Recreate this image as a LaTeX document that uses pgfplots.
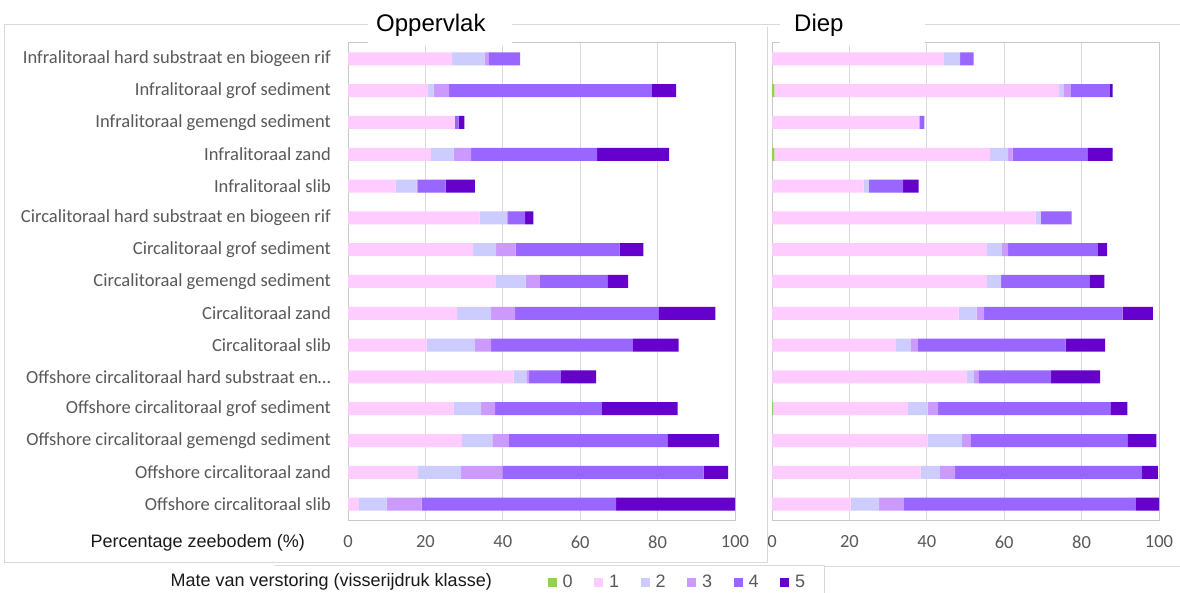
\documentclass[border=0pt]{standalone}
\usepackage{pgfplots}
\pgfplotsset{compat=1.18}
\usepackage{pgfplotstable}
\usepackage{fontspec}
\setmainfont{Carlito}
\newfontfamily\arial{Liberation Sans}
\definecolor{c0}{HTML}{92D050}
\definecolor{c1}{HTML}{FFCCFF}
\definecolor{c2}{HTML}{CCCCFF}
\definecolor{c3}{HTML}{CC99FF}
\definecolor{c4}{HTML}{9966FF}
\definecolor{c5}{HTML}{6600CC}
\definecolor{gridgrey}{HTML}{D9D9D9}
\definecolor{framegrey}{HTML}{C8C8C8}
\definecolor{txtgrey}{HTML}{595959}

\pgfplotstableread{
y c0 c1 c2 c3 c4 c5
0 0 26.9 8.4 1.0 8.2 0
1 0 20.7 1.4 4.0 52.4 6.3
2 0 27.6 0 0 1.0 1.5
3 0 21.4 5.9 4.5 32.6 18.6
4 0 12.3 5.4 0.2 7.3 7.6
5 0 34.0 7.1 0.3 4.4 2.1
6 0 32.3 6.0 5.0 26.9 6.1
7 0 38.1 7.8 3.7 17.4 5.4
8 0 28.2 8.8 6.2 37.0 14.7
9 0 20.3 12.5 4.2 36.6 11.8
10 0 42.8 3.3 0.7 8.2 9.1
11 0 27.3 7.1 3.6 27.6 19.6
12 0 29.4 7.9 4.3 40.9 13.4
13 0 17.9 11.3 10.7 52.0 6.3
14 0 2.7 7.3 9.0 50.3 30.7
}\opp

\pgfplotstableread{
y c0 c1 c2 c3 c4 c5
0 0 44.4 4.2 0 3.5 0
1 0.6 73.6 1.2 1.8 10.1 0.7
2 0 38.1 0 0 1.3 0
3 0.6 55.7 4.7 1.2 19.3 6.5
4 0 23.7 1.3 0 8.9 4.0
5 0 68.1 1.3 0 8.0 0
6 0 55.5 3.9 1.6 23.2 2.4
7 0 55.5 3.7 0 22.8 3.9
8 0 48.2 4.7 1.9 35.8 7.8
9 0 32.0 3.9 1.8 38.2 10.2
10 0 50.4 1.8 1.1 18.8 12.7
11 0.3 34.8 5.1 2.7 44.5 4.4
12 0 40.2 8.9 2.3 40.4 7.5
13 0 38.4 5.0 3.9 48.3 4.1
14 0 20.3 7.4 6.4 59.9 6.0
}\diep

\pgfplotsset{
  panel/.style={
    xbar stacked, bar width=13pt,
    scale only axis, width=387pt, height=477pt,
    anchor=south west,
    xmin=0, xmax=100, ymin=-0.5, ymax=14.5, y dir=reverse,
    xtick={0,20,40,60,80,100}, xticklabels={0,20,40,60,80,100},
    ytick={0,1,2,3,4,5,6,7,8,9,10,11,12,13,14},
    major tick length=0pt,
    xmajorgrids, major grid style={draw=gridgrey, line width=1pt},
    axis line style={draw=framegrey, line width=1pt},
    xticklabel style={font=\fontsize{18.5}{20}\selectfont, text=txtgrey, yshift=-12pt},
    every axis plot/.append style={draw=none},
    clip=false,
  }
}

\begin{document}
\begin{tikzpicture}
\useasboundingbox (0pt,0pt) rectangle (1180pt,593pt);
\fill[white] (0pt,0pt) rectangle (1180pt,593pt);

\begin{axis}[panel, at={(348pt,73pt)},
  yticklabels={
    Infralitoraal hard substraat en biogeen rif,
    Infralitoraal grof sediment,
    Infralitoraal gemengd sediment,
    Infralitoraal zand,
    Infralitoraal slib,
    Circalitoraal hard substraat en biogeen rif,
    Circalitoraal grof sediment,
    Circalitoraal gemengd sediment,
    Circalitoraal zand,
    Circalitoraal slib,
    Offshore circalitoraal hard substraat en\ldots,
    Offshore circalitoraal grof sediment,
    Offshore circalitoraal gemengd sediment,
    Offshore circalitoraal zand,
    Offshore circalitoraal slib},
  yticklabel style={font=\fontsize{18.5}{20}\selectfont, text=txtgrey, anchor=east, inner sep=0pt, xshift=-17pt},
  legend columns=-1,
  legend style={draw=none, fill=none, at={(0.5155,-0.130)}, anchor=west,
     inner sep=0pt, outer sep=0pt,
     font=\arial\fontsize{18}{20}\selectfont, text=txtgrey,
     nodes={inner sep=0pt},
     /tikz/every even column/.append style={column sep=21.5pt},
     /tikz/every odd column/.append style={column sep=6pt}},
  legend image code/.code={\fill[#1] (0pt,-4.5pt) rectangle (9pt,4.5pt);},
]
\addplot[fill=c0] table[x=c0,y=y]{\opp};
\addplot[fill=c1] table[x=c1,y=y]{\opp};
\addplot[fill=c2] table[x=c2,y=y]{\opp};
\addplot[fill=c3] table[x=c3,y=y]{\opp};
\addplot[fill=c4] table[x=c4,y=y]{\opp};
\addplot[fill=c5] table[x=c5,y=y]{\opp};
\legend{0,1,2,3,4,5}
\end{axis}

\begin{axis}[panel, at={(772pt,73pt)}, yticklabels={}]
\addplot[fill=c0] table[x=c0,y=y]{\diep};
\addplot[fill=c1] table[x=c1,y=y]{\diep};
\addplot[fill=c2] table[x=c2,y=y]{\diep};
\addplot[fill=c3] table[x=c3,y=y]{\diep};
\addplot[fill=c4] table[x=c4,y=y]{\diep};
\addplot[fill=c5] table[x=c5,y=y]{\diep};
\end{axis}

% outer frames
\draw[gridgrey, line width=1pt] (4pt,30pt) -- (4pt,568pt) -- (1180pt,568pt);
\draw[gridgrey, line width=1pt] (767pt,566pt) -- (767pt,30pt) -- (4pt,30pt);
\draw[gridgrey, line width=1pt] (275pt,27pt) -- (824pt,27pt) -- (824pt,0pt);
\draw[gridgrey, line width=1pt] (824pt,26pt) -- (1180pt,26pt);

% title boxes
\fill[white] (368pt,547pt) rectangle (512pt,583pt);
\fill[white] (780pt,547pt) rectangle (925pt,583pt);
\node[anchor=base west, inner sep=0pt, font=\arial\fontsize{24}{26}\selectfont] at (376pt,561pt) {Oppervlak};
\node[anchor=base west, inner sep=0pt, font=\arial\fontsize{24}{26}\selectfont] at (794pt,561pt) {Diep};

\node[anchor=east, inner sep=0pt, font=\arial\fontsize{18}{20}\selectfont, text=black!90] at (305pt,50pt) {Percentage zeebodem (\%)};
\node[anchor=east, inner sep=0pt, font=\arial\fontsize{18}{20}\selectfont, text=black!90] at (492pt,11pt) {Mate van verstoring (visserijdruk klasse)};
\end{tikzpicture}
\end{document}
